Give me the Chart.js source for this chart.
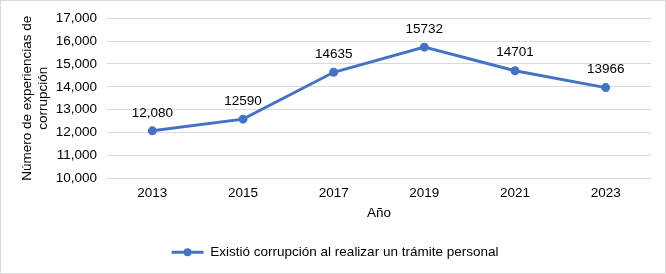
<!DOCTYPE html>
<html lang="es">
<head>
<meta charset="UTF-8">
<title>Experiencias de corrupción</title>
<script src="https://cdn.jsdelivr.net/npm/chart.js"></script>
<style>
  html, body { margin: 0; padding: 0; background: #fff; }
  #wrap { width: 666px; height: 274px; position: relative; }
</style>
</head>
<body>
<div id="wrap"><canvas id="chart" width="666" height="274"></canvas></div>
<script>
  // data
  const years = ['2013', '2015', '2017', '2019', '2021', '2023'];
  const values = [12080, 12590, 14635, 15732, 14701, 13966];
  const pointLabels = ['12,080', '12590', '14635', '15732', '14701', '13966'];
  const seriesName = 'Existió corrupción al realizar un trámite personal';

  const blue = '#4472C4';
  const font = { family: 'Liberation Sans, Arial, sans-serif', size: 13.5 };

  // outer light border
  const frame = {
    id: 'frame',
    afterDraw(chart) {
      const c = chart.ctx;
      c.save();
      c.strokeStyle = '#d9d9d9';
      c.lineWidth = 1;
      c.strokeRect(0.5, 0.5, chart.width - 1, chart.height - 1);
      c.restore();
    }
  };

  // value labels above each point
  const valueLabels = {
    id: 'valueLabels',
    afterDatasetsDraw(chart) {
      const c = chart.ctx;
      const meta = chart.getDatasetMeta(0);
      c.save();
      c.font = font.size + 'px ' + font.family;
      c.fillStyle = '#000';
      c.textAlign = 'center';
      c.textBaseline = 'middle';
      meta.data.forEach((pt, i) => {
        c.fillText(pointLabels[i], pt.x, pt.y - 18);
      });
      c.restore();
    }
  };

  // put a marker on the legend line
  const legendMarker = {
    id: 'legendMarker',
    afterDraw(chart) {
      const boxes = chart.legend.legendHitBoxes;
      if (!boxes || !boxes.length) return;
      const b = boxes[0];
      const c = chart.ctx;
      const w = chart.legend.options.labels.pointStyleWidth;
      c.save();
      c.fillStyle = blue;
      c.beginPath();
      c.arc(b.left + w / 2, b.top + b.height / 2, 4, 0, Math.PI * 2);
      c.fill();
      c.restore();
    }
  };

  new Chart(document.getElementById('chart'), {
    type: 'line',
    data: {
      labels: years,
      datasets: [{
        label: seriesName,
        data: values,
        borderColor: blue,
        backgroundColor: blue,
        borderWidth: 3,
        pointRadius: 3,
        pointBackgroundColor: blue,
        pointBorderColor: blue,
        pointBorderWidth: 3,
        tension: 0
      }]
    },
    options: {
      responsive: false,
      animation: false,
      layout: { padding: { top: 16, right: 15, left: 19, bottom: 5 } },
      plugins: {
        legend: {
          position: 'bottom',
          labels: {
            usePointStyle: true,
            pointStyle: 'line',
            pointStyleWidth: 32,
            boxHeight: 3,
            padding: 10,
            color: '#000',
            font: font
          }
        },
        tooltip: { enabled: false }
      },
      scales: {
        x: {
          offset: true,
          grid: { display: false, drawTicks: false },
          border: { display: false },
          ticks: { color: '#000', font: font, padding: 7 },
          title: { display: true, text: 'Año', color: '#000', font: font, padding: { top: 4, bottom: 14 } },
          afterFit(s) { s.height = 57; }
        },
        y: {
          min: 10000,
          max: 17000,
          grid: { color: '#d9d9d9', drawTicks: false },
          border: { display: false },
          ticks: {
            stepSize: 1000,
            color: '#000',
            font: font,
            padding: 10,
            callback: v => v.toLocaleString('en-US')
          },
          title: {
            display: true,
            text: ['Número de experiencias de', 'corrupción'],
            color: '#000',
            font: font,
            padding: { top: 0, bottom: 4 }
          },
          afterFit(s) { s.width = 88; }
        }
      }
    },
    plugins: [frame, valueLabels, legendMarker]
  });
</script>
</body>
</html>
